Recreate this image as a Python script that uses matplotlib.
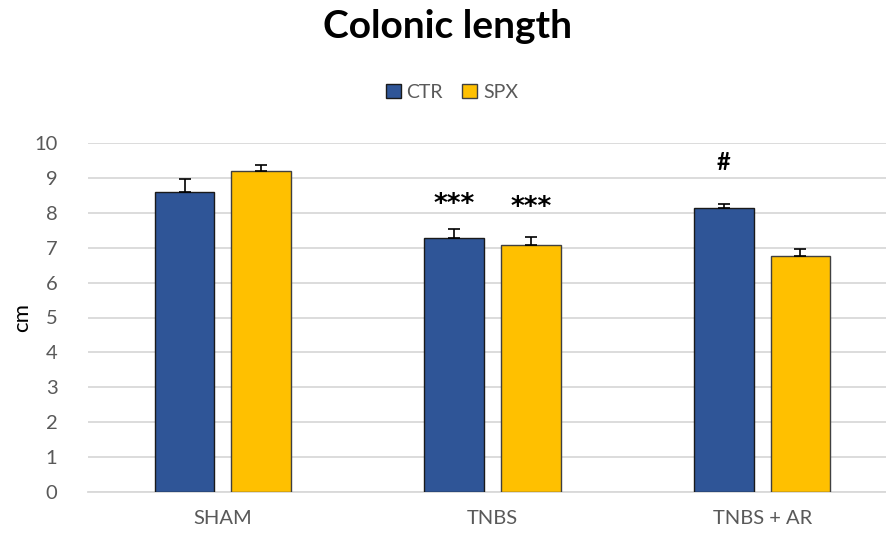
import matplotlib
matplotlib.use("Agg")
import matplotlib.pyplot as plt
import numpy as np

categories = ["SHAM", "TNBS", "TNBS + AR"]
series_names = ["CTR", "SPX"]
ctr_values = [8.6, 7.28, 8.14]
ctr_errors = [0.37, 0.26, 0.12]
spx_values = [9.2, 7.08, 6.76]
spx_errors = [0.17, 0.23, 0.2]
annotations = [("***", 1, "CTR", 8.37), ("***", 1, "SPX", 8.3), ("#", 2, "CTR", 9.45)]

plt.rcParams['font.family'] = ['Lato', 'DejaVu Sans']

fig = plt.figure(figsize=(8.86, 5.35), dpi=100)
W, H = 886, 535
left, right, bottom, top = 88, 886, 492, 143
ax = fig.add_axes([left / W, 1 - bottom / H, (right - left) / W, (bottom - top) / H])

x = np.arange(len(categories))
bw = 0.222
off = 0.142
ctr_col = "#2F5597"
spx_col = "#FFC000"

ax.bar(x - off, ctr_values, bw, color=ctr_col, edgecolor="#1a1a1a", linewidth=1.0, zorder=3, label="CTR")
ax.bar(x + off, spx_values, bw, color=spx_col, edgecolor="#404040", linewidth=1.0, zorder=3, label="SPX")
ax.errorbar(x - off, ctr_values, yerr=[np.zeros(3), ctr_errors], fmt="none", ecolor="black", elinewidth=1.2, capsize=4.5, capthick=1.2, zorder=4)
ax.errorbar(x + off, spx_values, yerr=[np.zeros(3), spx_errors], fmt="none", ecolor="black", elinewidth=1.2, capsize=4.5, capthick=1.2, zorder=4)

for txt, i, s, yv in annotations:
    xx = i - off if s == "CTR" else i + off
    if txt.startswith("*"):
        ax.text(xx, yv - 0.15, txt, ha="center", va="center", fontsize=19, fontweight="bold",
                family=["DejaVu Sans"], color="black", zorder=5)
    else:
        ax.text(xx, yv, txt, ha="center", va="center", fontsize=17, fontweight="bold", color="black", zorder=5)

ax.set_xlim(-0.5, 2.5 - 11 / 270)
ax.set_ylim(0, 10)
ax.set_yticks(range(0, 11))
ax.set_xticks(x)
ax.set_xticklabels(categories)
ax.yaxis.grid(True, color="#d9d9d9", linewidth=1.3, zorder=0)
ax.set_axisbelow(True)
for sp in ["top", "right", "left"]:
    ax.spines[sp].set_visible(False)
ax.spines["bottom"].set_color("#d9d9d9")
ax.spines["bottom"].set_linewidth(1.3)
ax.tick_params(axis="both", length=0, labelsize=14.5, labelcolor="#595959")
ax.tick_params(axis="y", pad=22)
ax.tick_params(axis="x", pad=13)
ax.set_ylabel("cm", fontsize=16, color="black")
ax.yaxis.set_label_coords((32 - left) / (right - left), 0.5)

fig.text(447 / W, 1 - 26 / H, "Colonic length", ha="center", va="center", fontsize=28, fontweight="bold", color="black")
leg = fig.legend(loc="center", bbox_to_anchor=(452 / W, 1 - 92 / H), ncol=2, frameon=False,
                 fontsize=14, handlelength=0.75, handleheight=0.75, handletextpad=0.3, columnspacing=1.0)
for t in leg.get_texts():
    t.set_color("#595959")

fig.savefig("out.png", dpi=100)
